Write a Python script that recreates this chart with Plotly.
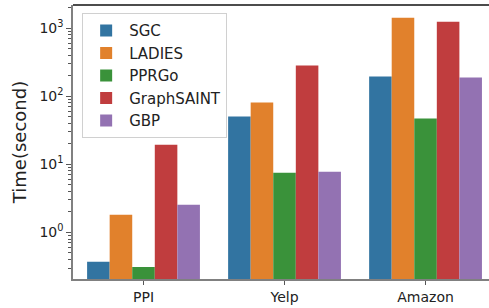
import plotly.graph_objects as go

categories = ["PPI", "Yelp", "Amazon"]
series_names = ["SGC", "LADIES", "PPRGo", "GraphSAINT", "GBP"]
sgc = [0.37, 50.3, 195]
ladies = [1.82, 80.8, 1417]
pprgo = [0.31, 7.5, 47.1]
graphsaint = [19.4, 282, 1237]
gbp = [2.55, 7.8, 188]
colors = ["#3274A1", "#E1812C", "#3A923A", "#C03D3E", "#9372B2"]
major_ticks = [1, 10, 100, 1000]
major_text = ["10<sup>0</sup>", "10<sup>1</sup>", "10<sup>2</sup>", "10<sup>3</sup>"]

values = [sgc, ladies, pprgo, graphsaint, gbp]

fig = go.Figure()
for name, vals, c in zip(series_names, values, colors):
    fig.add_trace(go.Bar(x=list(range(len(categories))), y=vals, name=name,
                         marker=dict(color=c, line=dict(width=0))))

minor_vals = [m * 10 ** e for e in range(-1, 4) for m in range(2, 10)]

fig.update_layout(
    width=489, height=308,
    margin=dict(l=73, r=0, t=5, b=29, autoexpand=False),
    paper_bgcolor="white", plot_bgcolor="white",
    barmode="group", bargap=0.2, bargroupgap=0,
    font=dict(family="DejaVu Sans", size=14, color="#222"),
    showlegend=True,
    legend=dict(x=0.022, y=0.97, xanchor="left", yanchor="top",
                bgcolor="rgba(255,255,255,0.8)", bordercolor="#d0d0d0", borderwidth=1,
                font=dict(size=15), itemwidth=36, tracegroupgap=2),
    xaxis=dict(tickmode="array", tickvals=list(range(len(categories))), ticktext=categories,
               range=[-0.5, 2.45], showline=True, linecolor="#808080", linewidth=1.5,
               ticks="outside", ticklen=4, tickcolor="#555", showgrid=False, zeroline=False,
               tickfont=dict(size=14), automargin=False),
    yaxis=dict(type="log", range=[-0.684, 3.338], tickmode="array", tickvals=major_ticks,
               ticktext=major_text, showline=True, linecolor="#808080", linewidth=1.5,
               ticks="outside", ticklen=5, tickcolor="#555", showgrid=False, zeroline=False,
               tickfont=dict(size=14), automargin=False,
               minor=dict(tickmode="array", tickvals=minor_vals, ticks="outside", ticklen=3,
                          tickcolor="#555", showgrid=False),
               title=dict(text="Time(second)", font=dict(size=18), standoff=8)),
)
fig.add_shape(type="line", xref="paper", yref="paper", x0=0, x1=1, y0=1, y1=1,
              line=dict(color="#111", width=1.5))
fig.write_html("out.html", config={"displayModeBar": False},
               post_script="document.body.style.margin='0';")
